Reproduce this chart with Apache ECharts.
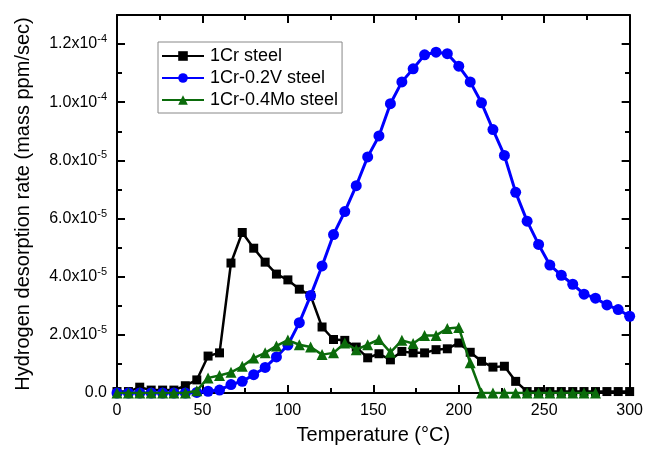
<!DOCTYPE html>
<html>
<head>
<meta charset="utf-8">
<script src="https://cdn.jsdelivr.net/npm/echarts@6/dist/echarts.min.js"></script>
<style>
html,body{margin:0;padding:0;background:#fff;}
#chart{width:646px;height:456px;}
</style>
</head>
<body>
<div id="chart"></div>
<script>
// Temperature (°C)
var temps = [0, 6.7, 13.3, 20, 26.7, 33.3, 40, 46.7, 53.3, 60, 66.7, 73.3, 80, 86.7, 93.3, 100,
  106.7, 113.3, 120, 126.7, 133.3, 140, 146.7, 153.3, 160, 166.7, 173.3, 180, 186.7, 193.3, 200,
  206.7, 213.3, 220, 226.7, 233.3, 240, 246.7, 253.3, 260, 266.7, 273.3, 280, 286.7, 293.3, 300];

// Hydrogen desorption rate (mass ppm/sec)
var crSteel = [0.05e-5, 0.05e-5, 0.2e-5, 0.1e-5, 0.1e-5, 0.1e-5, 0.25e-5, 0.45e-5, 1.27e-5, 1.38e-5,
  4.47e-5, 5.52e-5, 4.98e-5, 4.5e-5, 4.09e-5, 3.89e-5, 3.57e-5, 3.35e-5, 2.27e-5, 1.84e-5,
  1.81e-5, 1.58e-5, 1.21e-5, 1.35e-5, 1.14e-5, 1.43e-5, 1.38e-5, 1.38e-5, 1.49e-5, 1.52e-5,
  1.72e-5, 1.40e-5, 1.09e-5, 0.89e-5, 0.92e-5, 0.40e-5, 0.05e-5, 0.05e-5, 0.05e-5, 0.05e-5,
  0.05e-5, 0.05e-5, 0.05e-5, 0.05e-5, 0.05e-5, 0.05e-5];

var vSteel = [0, 0, 0, 0, 0, 0, 0, 0.02e-5, 0.06e-5, 0.1e-5,
  0.29e-5, 0.40e-5, 0.63e-5, 0.88e-5, 1.24e-5, 1.65e-5, 2.42e-5, 3.35e-5, 4.37e-5, 5.45e-5,
  6.24e-5, 7.13e-5, 8.12e-5, 8.84e-5, 9.95e-5, 10.7e-5, 11.15e-5, 11.63e-5, 11.72e-5, 11.67e-5,
  11.24e-5, 10.7e-5, 9.98e-5, 9.06e-5, 8.17e-5, 6.9e-5, 5.91e-5, 5.11e-5, 4.40e-5, 4.05e-5,
  3.74e-5, 3.40e-5, 3.26e-5, 3.03e-5, 2.87e-5, 2.64e-5];

var moSteel = [0, 0, 0, 0, 0, 0, 0, 0.08e-5, 0.52e-5, 0.60e-5,
  0.71e-5, 0.92e-5, 1.2e-5, 1.38e-5, 1.62e-5, 1.82e-5, 1.66e-5, 1.58e-5, 1.32e-5, 1.38e-5,
  1.72e-5, 1.49e-5, 1.66e-5, 1.84e-5, 1.40e-5, 1.81e-5, 1.70e-5, 1.98e-5, 1.98e-5, 2.22e-5,
  2.25e-5, 1.04e-5, 0, 0, 0, 0, 0, 0, 0, 0,
  0, 0, 0];

var seriesNames = ['1Cr steel', '1Cr-0.2V steel', '1Cr-0.4Mo steel'];

function pairs(arr) {
  return arr.map(function (v, i) { return [temps[i], v]; });
}

function yFmt(v) {
  if (Math.abs(v) < 1e-12) return '{m|0.0}';
  var k = Math.round(v / 1e-5);
  if (Math.abs(v / 1e-5 - k) > 1e-6 || k % 2 !== 0) return '';
  var exp = Math.floor(Math.log10(v * 1.0000001));
  var mant = (v / Math.pow(10, exp)).toFixed(1);
  return '{m|' + mant + 'x10}{e|' + exp + '}';
}

var FONT = '"Liberation Sans", Arial, sans-serif';
var gridBox = { left: 117, right: 16, top: 15, bottom: 63 };

var chart = echarts.init(document.getElementById('chart'), null, { renderer: 'canvas' });
chart.setOption({
  animation: false,
  backgroundColor: '#fff',
  textStyle: { fontFamily: FONT, color: '#000' },
  grid: [
    Object.assign({}, gridBox),
    Object.assign({}, gridBox)
  ],
  legend: {
    data: seriesNames,
    orient: 'vertical',
    left: 158,
    top: 42,
    padding: [5, 4, 4, 3],
    itemGap: 4,
    itemWidth: 42,
    itemHeight: 12,
    borderColor: '#888',
    borderWidth: 1,
    textStyle: { fontFamily: FONT, fontSize: 18, color: '#000', padding: [0, 0, 0, 1] }
  },
  xAxis: [
    {
      gridIndex: 0, type: 'value', position: 'bottom', min: 0, max: 300, interval: 50,
      name: 'Temperature (°C)', nameLocation: 'middle', nameGap: 32,
      nameTextStyle: { fontFamily: FONT, fontSize: 20, color: '#000' },
      axisLine: { onZero: false, lineStyle: { color: '#000', width: 2 } },
      axisTick: { inside: true, length: 8, lineStyle: { color: '#000', width: 2 } },
      minorTick: { show: true, splitNumber: 2, length: 5, lineStyle: { color: '#000', width: 2 } },
      axisLabel: { fontFamily: FONT, fontSize: 16, color: '#000', margin: 10 },
      splitLine: { show: false }
    },
    {
      gridIndex: 0, type: 'value', position: 'top', min: 0, max: 300, interval: 50,
      axisLine: { onZero: false, lineStyle: { color: '#000', width: 2 } },
      axisTick: { inside: true, length: 8, lineStyle: { color: '#000', width: 2 } },
      minorTick: { show: true, splitNumber: 2, length: 5, lineStyle: { color: '#000', width: 2 } },
      axisLabel: { show: false },
      splitLine: { show: false }
    },
    {
      gridIndex: 1, type: 'value', min: 0, max: 300, show: false
    }
  ],
  yAxis: [
    {
      gridIndex: 0, type: 'value', position: 'left', min: 0, max: 1.3e-4, interval: 2e-5,
      name: 'Hydrogen desorption rate (mass ppm/sec)', nameLocation: 'middle', nameGap: 84,
      nameTextStyle: { fontFamily: FONT, fontSize: 20, color: '#000' },
      axisLine: { onZero: false, lineStyle: { color: '#000', width: 2 } },
      axisTick: { inside: true, length: 8, lineStyle: { color: '#000', width: 2 } },
      axisLabel: {
        margin: 10, showMaxLabel: false, formatter: yFmt,
        rich: {
          m: { fontFamily: FONT, fontSize: 16, color: '#000' },
          e: { fontFamily: FONT, fontSize: 11, color: '#000', verticalAlign: 'top', padding: [0, 0, 10, 0] }
        }
      },
      splitLine: { show: false }
    },
    {
      gridIndex: 0, type: 'value', position: 'right', min: 0, max: 1.3e-4, interval: 2e-5,
      axisLine: { onZero: false, lineStyle: { color: '#000', width: 2 } },
      axisTick: { inside: true, length: 8, lineStyle: { color: '#000', width: 2 } },
      axisLabel: { show: false },
      splitLine: { show: false }
    },
    {
      gridIndex: 1, type: 'value', position: 'left', min: 0, max: 1.3e-4, interval: 1e-5,
      axisLine: { show: false },
      axisTick: { inside: true, length: 5, lineStyle: { color: '#000', width: 2 } },
      axisLabel: { show: false },
      splitLine: { show: false }
    },
    {
      gridIndex: 1, type: 'value', position: 'right', min: 0, max: 1.3e-4, interval: 1e-5,
      axisLine: { show: false },
      axisTick: { inside: true, length: 5, lineStyle: { color: '#000', width: 2 } },
      axisLabel: { show: false },
      splitLine: { show: false }
    }
  ],
  series: [
    {
      name: seriesNames[0], type: 'line', xAxisIndex: 0, yAxisIndex: 0,
      data: pairs(crSteel), symbol: 'rect', symbolSize: 9,
      lineStyle: { color: '#000', width: 2.5 }, itemStyle: { color: '#000' }, z: 3
    },
    {
      name: seriesNames[1], type: 'line', xAxisIndex: 0, yAxisIndex: 0,
      data: pairs(vSteel), symbol: 'circle', symbolSize: 11,
      lineStyle: { color: '#0000ff', width: 3 }, itemStyle: { color: '#0000ff' }, z: 4
    },
    {
      name: seriesNames[2], type: 'line', xAxisIndex: 0, yAxisIndex: 0,
      data: pairs(moSteel), symbol: 'triangle', symbolSize: 11,
      lineStyle: { color: '#0b6b0b', width: 2.5 }, itemStyle: { color: '#0b6b0b' }, z: 5
    }
  ]
});
</script>
</body>
</html>
